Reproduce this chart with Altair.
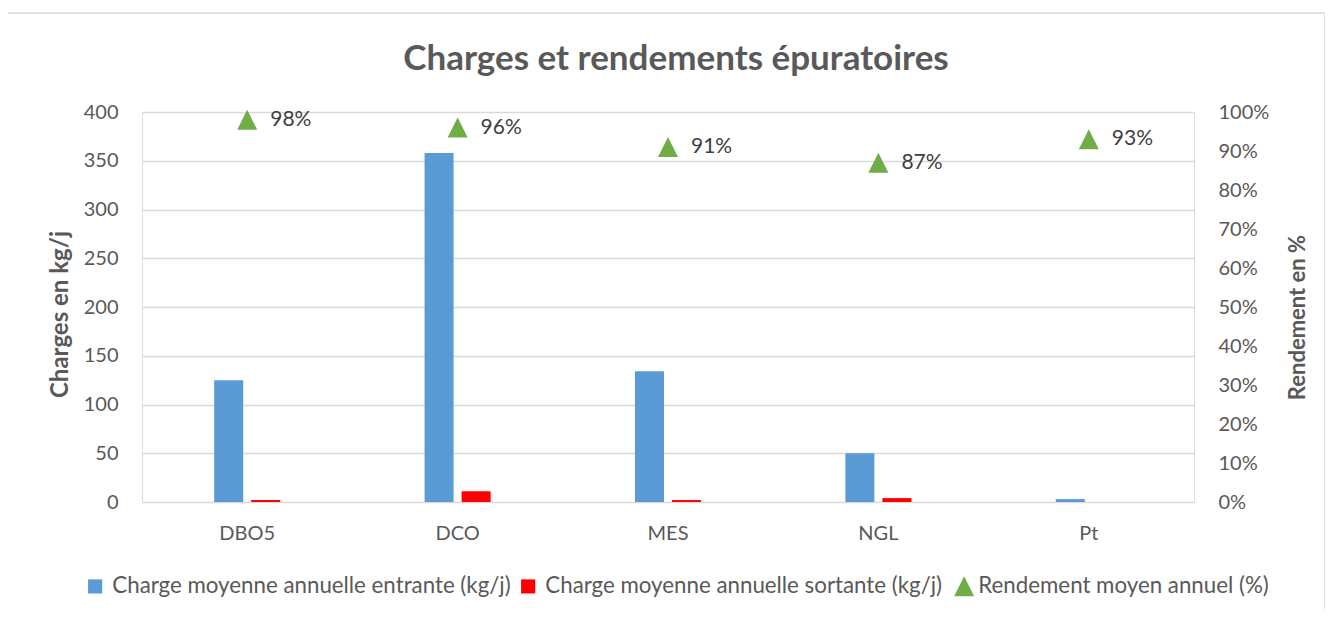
import altair as alt
import pandas as pd

categories = ["DBO5", "DCO", "MES", "NGL", "Pt"]
entrante = [125, 358, 134, 50, 3]
sortante = [2, 11, 2, 4, 0]
rendement = [0.98, 0.96, 0.91, 0.87, 0.93]
rendement_labels = ["98%", "96%", "91%", "87%", "93%"]

s_in = "Charge moyenne annuelle entrante (kg/j)"
s_out = "Charge moyenne annuelle sortante (kg/j)"
s_rend = "Rendement moyen annuel (%)"

bars_df = pd.DataFrame(
    {
        "category": categories * 2,
        "series": [s_in] * len(categories) + [s_out] * len(categories),
        "value": entrante + sortante,
    }
)
rend_df = pd.DataFrame(
    {
        "category": categories,
        "rendement": rendement,
        "label": rendement_labels,
        "series": [s_rend] * len(categories),
    }
)
frame_df = pd.DataFrame({"k": [0]})

FONT = "Lato"
TXT = "#595959"
GRID = "#D9D9D9"
TRI = "M0,-1L1,1L-1,1Z"

x_enc = alt.X(
    "category:N",
    sort=categories,
    scale=alt.Scale(paddingInner=0.686, paddingOuter=0.343),
    axis=alt.Axis(
        title=None, labelAngle=0, domain=False, ticks=False, grid=False,
        labelPadding=21, labelFontSize=20, labelColor=TXT, labelFont=FONT,
    ),
)

bars = alt.Chart(bars_df).mark_bar().encode(
    x=x_enc,
    xOffset=alt.XOffset(
        "series:N",
        sort=[s_in, s_out],
        scale=alt.Scale(domain=[s_in, s_out], paddingInner=0.216, paddingOuter=0),
    ),
    y=alt.Y(
        "value:Q",
        scale=alt.Scale(domain=[0, 400]),
        axis=alt.Axis(
            values=[0, 50, 100, 150, 200, 250, 300, 350, 400],
            title="Charges en kg/j",
            grid=True, gridColor=GRID, gridWidth=1.5,
            domain=False, ticks=False, labelPadding=24,
            labelFontSize=20, labelColor=TXT, labelFont=FONT,
            titleFontSize=24, titleFont=FONT, titleFontWeight="bold", titleColor=TXT,
            titleAngle=-90, titleX=-82, titleY=202, titleAlign="center", titleBaseline="middle",
        ),
    ),
    color=alt.Color(
        "series:N",
        scale=alt.Scale(domain=[s_in, s_out], range=["#5B9BD5", "#FF0000"]),
        legend=alt.Legend(
            orient="none", direction="horizontal", legendX=-58, legendY=463,
            title=None, labelFontSize=22.3, labelColor=TXT, labelFont=FONT, labelLimit=0,
            symbolSize=200, symbolType="square", symbolStrokeWidth=0,
            labelOffset=6, columnPadding=6, columns=2,
        ),
    ),
)

y_rend = alt.Y(
    "rendement:Q",
    scale=alt.Scale(domain=[0, 1]),
    axis=alt.Axis(
        orient="right", format=".0%",
        values=[0, 0.1, 0.2, 0.3, 0.4, 0.5, 0.6, 0.7, 0.8, 0.9, 1.0],
        title="Rendement en %", grid=False, domain=False, ticks=False, labelPadding=24,
        labelFontSize=20, labelColor=TXT, labelFont=FONT,
        titleFontSize=22, titleFont=FONT, titleFontWeight="bold", titleColor=TXT,
        titleAngle=-90, titleX=103, titleY=205, titleAlign="center", titleBaseline="middle",
    ),
)

points = alt.Chart(rend_df).mark_point(
    filled=True, opacity=1, color="#70AD47", size=400
).encode(
    x=x_enc,
    y=y_rend,
    shape=alt.Shape(
        "series:N",
        scale=alt.Scale(domain=[s_rend], range=[TRI]),
        legend=alt.Legend(
            orient="none", direction="horizontal", legendX=811, legendY=463,
            title=None, labelFontSize=22.3, labelColor=TXT, labelFont=FONT, labelLimit=0,
            symbolSize=400, symbolFillColor="#70AD47", symbolStrokeWidth=0,
            labelOffset=3,
        ),
    ),
)

labels = alt.Chart(rend_df).mark_text(
    align="left", baseline="middle", dx=23, fontSize=21, font=FONT, color="#404040"
).encode(x=x_enc, y=y_rend, text="label:N")

frame = alt.Chart(frame_df).mark_rect(
    fill=None, fillOpacity=0, stroke=GRID, strokeWidth=1.5, clip=False
).encode(
    x=alt.value(-135), x2=alt.value(1183), y=alt.value(-99), y2=alt.value(520)
)

chart = (
    alt.layer(frame, bars, alt.layer(points, labels))
    .resolve_scale(y="independent")
    .properties(
        width=1052,
        height=390,
        title=alt.TitleParams(
            "Charges et rendements épuratoires",
            fontSize=35, font=FONT, fontWeight="bold", color=TXT, anchor="middle",
            frame="group", offset=0, dx=8, dy=65,
        ),
        autosize=alt.AutoSizeParams(type="none"),
        padding={"left": 134, "top": 104, "right": 131, "bottom": 107},
    )
    .configure_view(stroke=None)
    .configure(background="white")
)

chart.save("out.html", embed_options={"renderer": "svg", "actions": False})
